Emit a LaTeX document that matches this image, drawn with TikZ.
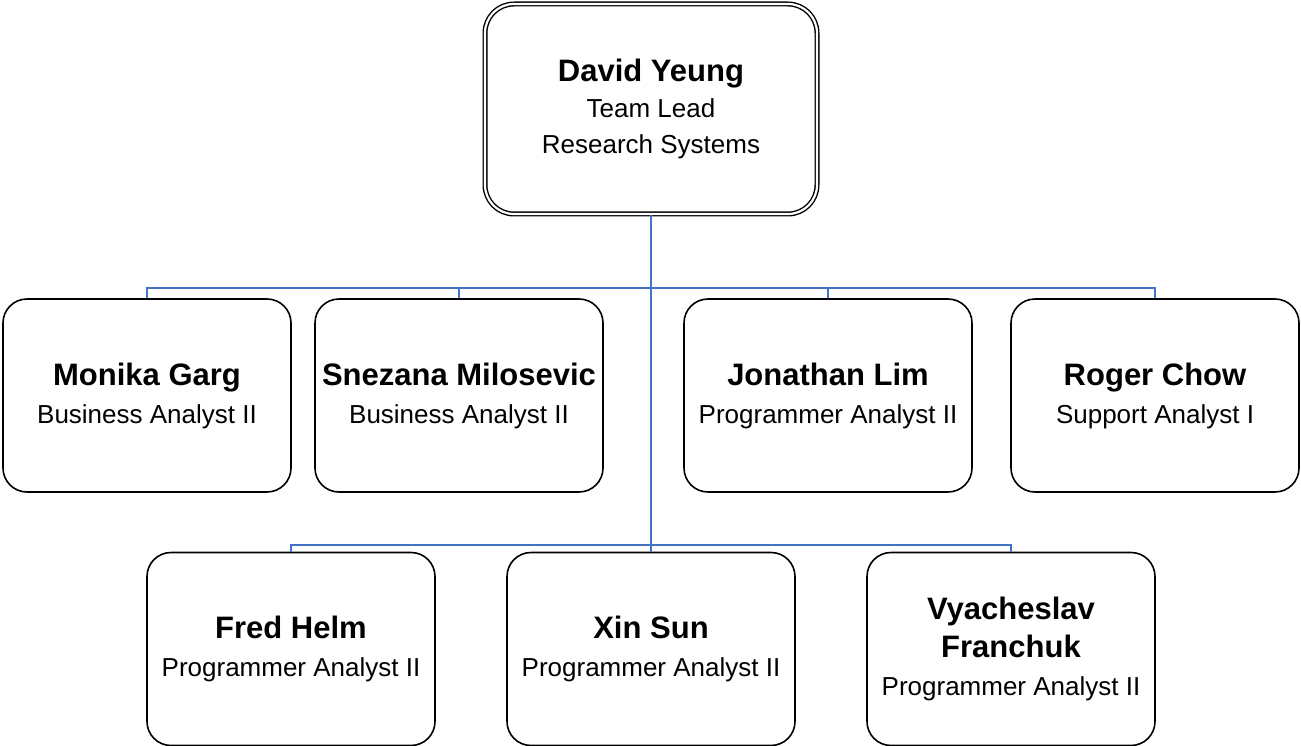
\documentclass[tikz,border=0pt]{standalone}
\usepackage{fontspec}
\setmainfont{Liberation Sans}
\definecolor{conn}{HTML}{4472C4}
\tikzset{
  person/.style={draw=black, line width=1.6pt, rounded corners=24pt, minimum width=288pt, minimum height=193pt, align=center, inner sep=0pt, font=\fontsize{26}{38}\selectfont},
  lead/.style={draw=black, double=white, line width=1.4pt, double distance=2.2pt, rounded corners=29pt, minimum width=332pt, minimum height=210pt, align=center, inner sep=0pt, font=\fontsize{26}{36}\selectfont},
  link/.style={draw=conn, line width=1.5pt}
}
\newcommand{\pname}[1]{{\fontsize{31}{38}\selectfont\bfseries #1}}
\begin{document}
\begin{tikzpicture}[x=1pt,y=-1pt]
\useasboundingbox (0,0) rectangle (1301,746);
\node[lead] (top) at (651,109) {\pname{David Yeung}\\Team Lead\\Research Systems};
\node[person] (monika) at (147,395.5) {\pname{Monika Garg}\\Business Analyst II};
\node[person] (snezana) at (459,395.5) {\pname{Snezana Milosevic}\\Business Analyst II};
\node[person] (jonathan) at (828,395.5) {\pname{Jonathan Lim}\\Programmer Analyst II};
\node[person] (roger) at (1155,395.5) {\pname{Roger Chow}\\Support Analyst I};
\node[person] (fred) at (291,649) {\pname{Fred Helm}\\Programmer Analyst II};
\node[person] (xin) at (651,649) {\pname{Xin Sun}\\Programmer Analyst II};
\node[person] (vya) at (1011,649) {\pname{Vyacheslav}\\\pname{Franchuk}\\Programmer Analyst II};
\coordinate (b1) at (651,288);
\coordinate (b2) at (651,545);
\draw[link] (top.south) -- (xin.north);
\draw[link] (monika.north) |- (roger.north |- b1) -- (roger.north);
\draw[link] (snezana.north) -- (snezana.north |- b1);
\draw[link] (jonathan.north) -- (jonathan.north |- b1);
\draw[link] (fred.north) |- (vya.north |- b2) -- (vya.north);
\end{tikzpicture}
\end{document}
